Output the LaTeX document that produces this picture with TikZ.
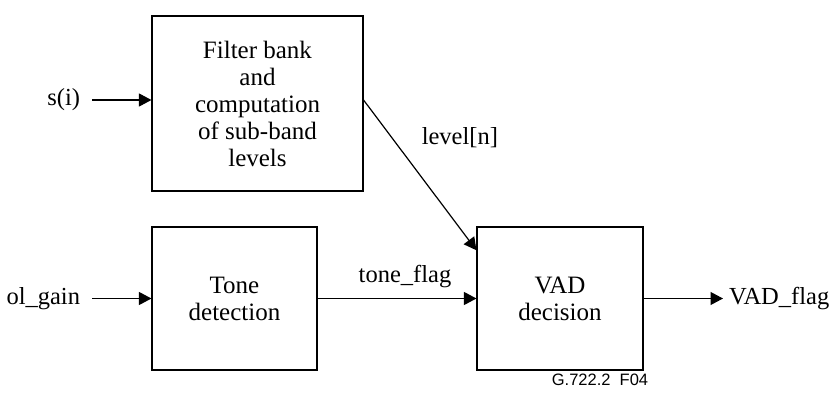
\documentclass[tikz,border=0pt]{standalone}
\usepackage{fontspec}
\setmainfont{Liberation Serif}
\newfontfamily\figidfont{Liberation Sans}
\usetikzlibrary{arrows.meta}
\tikzstyle{block}=[draw,line width=1.1pt,align=center,inner sep=0pt,font=\fontsize{25}{27}\selectfont]
\tikzstyle{sigtext}=[inner sep=0pt,outer sep=0pt,font=\fontsize{24.5}{27}\selectfont]

\begin{document}
\begin{tikzpicture}[x=1pt,y=1pt,line width=1.2pt,>={Triangle[length=12.5pt,width=13pt]}]
\useasboundingbox (0, 0) rectangle (836, 394);
\node[block,minimum width=211pt,minimum height=175pt] at (257.5, 290.5) (filter) {Filter bank\\and\\computation\\of sub-band\\levels};
\node[block,minimum width=165pt,minimum height=143pt] at (234.5, 95.5) (tone) {Tone\\detection};
\node[block,minimum width=166pt,minimum height=143pt] at (560, 95.5) (vad) {VAD\\decision};
\node[sigtext,anchor=east] at (80, 294) (si) {s(i)};
\node[sigtext,anchor=east] at (80, 95.5) (olgain) {ol\_gain};
\node[sigtext,anchor=west] at (729, 95.5) (vadflag) {VAD\_flag};
\coordinate (sin) at (92, 294);
\coordinate (olin) at (92, 95.5);
\coordinate (vadout) at (723, 95.5);
\draw[->] (sin) -- (filter.west |- sin);
\draw[->] (olin) -- (tone.west |- olin);
\draw[->] (filter.east |- sin) -- node[sigtext,pos=0.25,anchor=west,xshift=30pt] {level[n]} (vad.150);
\draw[->] (tone) -- node[sigtext,midway,anchor=base,xshift=8pt,yshift=16pt] {tone\_flag} (vad);
\draw[->] (vad.east) -- (vadout);
\node[font=\figidfont\fontsize{16.5}{18}\selectfont,inner sep=0pt] at (600, 14) (figid) {G.722.2\ \ F04};
\end{tikzpicture}
\end{document}
